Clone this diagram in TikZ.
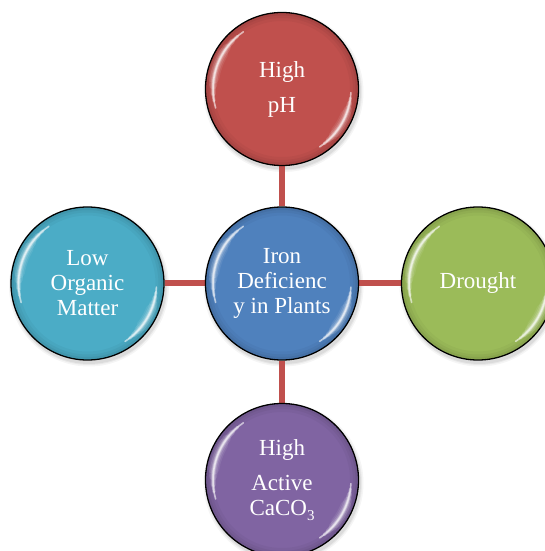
\documentclass[tikz,border=0pt]{standalone}
\usepackage{fontspec}
\setmainfont{Liberation Serif}
\usetikzlibrary{backgrounds}
\definecolor{cred}{HTML}{C0504D}
\definecolor{cblue}{HTML}{4F81BD}
\definecolor{ccyan}{HTML}{4BACC6}
\definecolor{cgreen}{HTML}{9BBB59}
\definecolor{cpurple}{HTML}{8064A2}
\tikzset{
  ball/.style={circle, minimum size=153pt, inner sep=0pt, draw=black, line width=1.3pt,
    fill=#1, text=white, align=center, font=\fontsize{23}{25}\selectfont},
  link/.style={draw=cred, line width=6pt}
}
\newcommand\ballgloss[1]{%
  \begin{scope}
    \clip (#1.center) circle (75.6);
    \foreach \w/\o in {16/0.03,10/0.04,5/0.05}{\draw[black,opacity=\o,line width=\w pt] (#1.center) circle (76);}
    \foreach \w/\s/\o in {1.6/36/0.6,3/30/0.35,5/24/0.2,8/17/0.12,11/11/0.08}{
      \draw[white, opacity=\o, line width=\w pt, line cap=round]
        ([shift={(160+\s:69)}]#1.center) arc (160+\s:160-\s:69);
      \draw[white, opacity=\o, line width=\w pt, line cap=round]
        ([shift={(-30+0.75*\s:69)}]#1.center) arc (-30+0.75*\s:-30-0.75*\s:69);
    }
  \end{scope}}
\newcommand\ballshadow[1]{%
  \foreach \r/\o in {80/0.04,78.5/0.05,77.5/0.06}{\fill[black,opacity=\o] ([shift={(1.5,-3)}]#1.center) circle (\r);}}
\begin{document}
\begin{tikzpicture}[x=1pt,y=1pt]
  \useasboundingbox (0,0) rectangle (545,551);
  \clip (0,0) rectangle (545,551);
  \node[ball=cblue] (C) at (282,267.5) {Iron\\Deficienc\\y in Plants};
  \node[ball=cred] (T) at (282,462) {High\\[10pt]pH};
  \node[ball=cpurple] (B) at (282,71) {High\\[10pt]Active\\CaCO\raisebox{-5pt}{\fontsize{15}{15}\selectfont 3}};
  \node[ball=ccyan] (L) at (87.5,267.5) {Low\\Organic\\Matter};
  \node[ball=cgreen] (R) at (478,267.5) {Drought};
  \foreach \n in {C,T,B,L,R}{\ballgloss{\n}}
  \begin{pgfonlayer}{background}
    \foreach \n in {C,T,B,L,R}{\ballshadow{\n}}
    \draw[link] (C) -- (T);
    \draw[link] (C) -- (B);
    \draw[link] (C) -- (L);
    \draw[link] (C) -- (R);
  \end{pgfonlayer}
\end{tikzpicture}
\end{document}
